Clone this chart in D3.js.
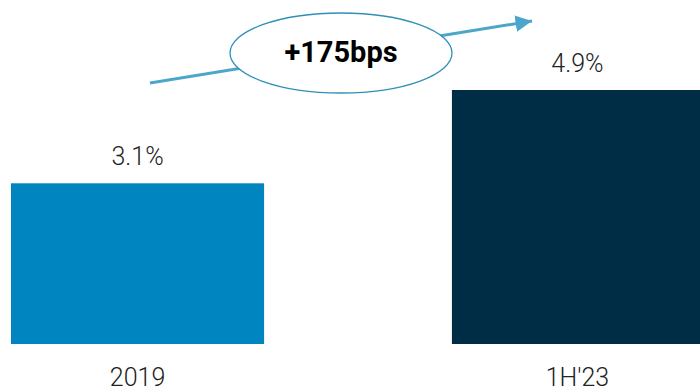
<!DOCTYPE html>
<html><head><meta charset="utf-8">
<script src="https://cdn.jsdelivr.net/npm/d3@7"></script>
<style>body{margin:0;background:#fff}svg{display:block}</style>
</head><body>
<svg id="c" width="700" height="389"></svg>
<script>
const categories = ["2019", "1H'23"];
const values = [3.1, 4.9];
const valueLabels = ["3.1%", "4.9%"];
const colors = ["#0085C0", "#002D46"];
const changeLabel = "+175bps";

const svg = d3.select("#c");
const x = d3.scaleBand().domain(categories).range([11, 705]).paddingInner(0.426).paddingOuter(0);
const y = d3.scaleLinear().domain([0, 4.9]).range([344, 90]);

svg.selectAll("rect.bar").data(values).join("rect")
  .attr("class", "bar")
  .attr("x", (d, i) => x(categories[i]))
  .attr("y", d => y(d))
  .attr("width", x.bandwidth())
  .attr("height", d => y(0) - y(d))
  .attr("fill", (d, i) => colors[i]);

const cx = (i) => x(categories[i]) + x.bandwidth() / 2 - (i === 1 ? 1 : 0);

svg.selectAll("text.val").data(values).join("text")
  .attr("class", "val")
  .attr("x", (d, i) => cx(i))
  .attr("y", d => y(d) - 18)
  .attr("text-anchor", "middle")
  .attr("font-family", "Roboto")
  .attr("font-weight", 300)
  .attr("font-size", 25)
  .attr("fill", "#222")
  .text((d, i) => valueLabels[i]);

svg.selectAll("text.cat").data(categories).join("text")
  .attr("class", "cat")
  .attr("x", (d, i) => cx(i))
  .attr("y", 386)
  .attr("text-anchor", "middle")
  .attr("font-family", "Roboto")
  .attr("font-weight", 300)
  .attr("font-size", 25)
  .attr("fill", "#222")
  .text(d => d);

// arrow
const defs = svg.append("defs");
defs.append("marker").attr("id", "ah").attr("viewBox", "0 0 10 10")
  .attr("refX", 10).attr("refY", 5).attr("markerWidth", 5.5).attr("markerHeight", 5.5)
  .attr("markerUnits", "strokeWidth").attr("orient", "auto")
  .append("path").attr("d", "M0,0 L10,5 L0,10 Z").attr("fill", "#4BA6CA");

svg.append("line")
  .attr("x1", 150).attr("y1", 83).attr("x2", 532).attr("y2", 21)
  .attr("stroke", "#4BA6CA").attr("stroke-width", 3)
  .attr("marker-end", "url(#ah)");

svg.append("ellipse")
  .attr("cx", 341).attr("cy", 53).attr("rx", 111).attr("ry", 40)
  .attr("fill", "#fff").attr("stroke", "#2E90BB").attr("stroke-width", 1.3);

svg.append("text")
  .attr("x", 341).attr("y", 62)
  .attr("text-anchor", "middle")
  .attr("font-family", "Roboto")
  .attr("font-weight", 700)
  .attr("font-size", 29)
  .attr("fill", "#000")
  .text(changeLabel);
</script>
</body></html>
